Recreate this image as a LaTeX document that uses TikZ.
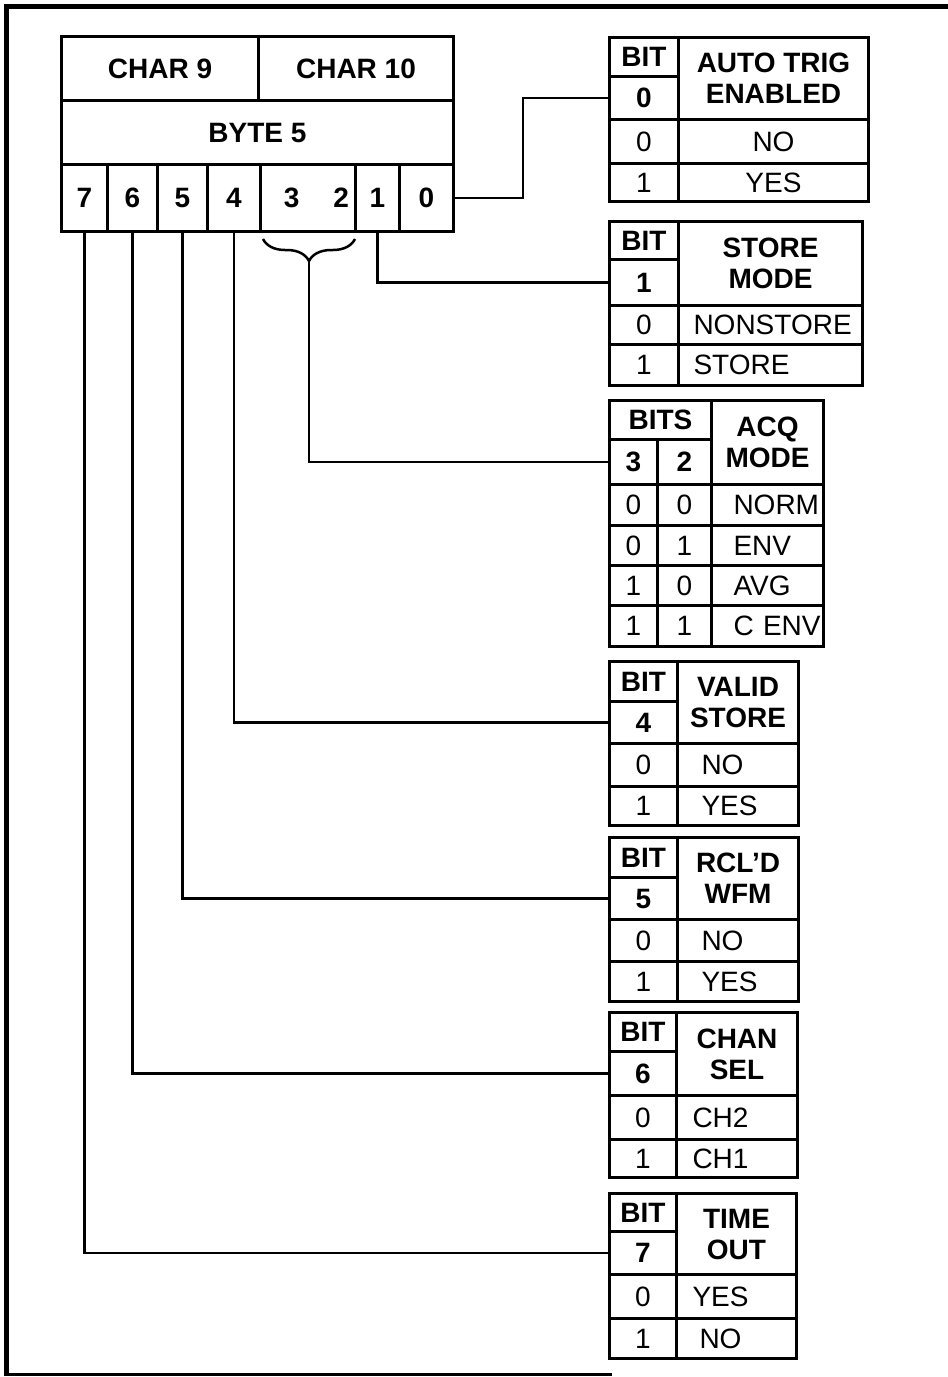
\documentclass[tikz,border=0pt]{standalone}
\usepackage{fontspec}
\setmainfont{Liberation Sans}
\usetikzlibrary{decorations.pathreplacing}

\begin{document}
\begin{tikzpicture}[x=1pt, y=-1pt,
  cell/.style={draw, rectangle, line width=3pt, inner sep=0pt, anchor=north west, font=\fontsize{28}{31}\selectfont},
  bcell/.style={cell, font=\fontsize{28}{31}\selectfont\bfseries, align=center},
  lcell/.style={cell, align=left, text width=#1},
  wire/.style={line width=2.5pt}]
\useasboundingbox (0,0) rectangle (948,1377);
% frame
\draw[line width=5pt] (6,1376) -- (6,6) -- (948,6);
\draw[line width=3pt] (6,1374) -- (612,1374);

% byte 5
\node (char9) [bcell, minimum width=197, minimum height=64] at (60,35) {CHAR 9};
\node (char10) [bcell, minimum width=195, minimum height=64] at (257,35) {CHAR 10};
\node (byte5) [bcell, minimum width=392, minimum height=64] at (60,99) {BYTE 5};
\node (b7) [bcell, minimum width=46, minimum height=67] at (60,163) {7};
\node (b6) [bcell, minimum width=50, minimum height=67] at (106,163) {6};
\node (b5) [bcell, minimum width=50, minimum height=67] at (156,163) {5};
\node (b4) [bcell, minimum width=53, minimum height=67] at (206,163) {4};
\node (b32) [bcell, minimum width=95, minimum height=67] at (259,163) {\hspace{17pt}3\hspace{34pt}2};
\node (b1) [bcell, minimum width=44, minimum height=67] at (354,163) {1};
\node (b0) [bcell, minimum width=54, minimum height=67] at (398,163) {0};

% bit 0
\node (trigbit) [bcell, minimum width=69, minimum height=39] at (608,36) {BIT};
\node (trigval) [bcell, minimum width=69, minimum height=43] at (608,75) {0};
\node (trighead) [bcell, minimum width=190, minimum height=82] at (677,36) {AUTO TRIG\\ENABLED};
\node (trig0) [cell, minimum width=69, minimum height=44] at (608,118) {0};
\node (trigno) [cell, minimum width=190, minimum height=44] at (677,118) {NO};
\node (trig1) [cell, minimum width=69, minimum height=38] at (608,162) {1};
\node (trigyes) [cell, minimum width=190, minimum height=38] at (677,162) {YES};

% bit 1
\node (storebit) [bcell, minimum width=69, minimum height=38] at (608,220) {BIT};
\node (storeval) [bcell, minimum width=69, minimum height=46] at (608,258) {1};
\node (storehead) [bcell, minimum width=184, minimum height=84] at (677,220) {STORE\\MODE};
\node (store0) [cell, minimum width=69, minimum height=39] at (608,304) {0};
\node (storeno) [lcell=154pt, minimum width=184, minimum height=39] at (677,304) {NONSTORE};
\node (store1) [cell, minimum width=69, minimum height=41] at (608,343) {1};
\node (storeyes) [lcell=154pt, minimum width=184, minimum height=41] at (677,343) {STORE};

% bits 3 and 2
\node (acqbits) [bcell, minimum width=102, minimum height=39] at (608,399) {BITS};
\node (acqval3) [bcell, minimum width=48, minimum height=45] at (608,438) {3};
\node (acqval2) [bcell, minimum width=54, minimum height=45] at (656,438) {2};
\node (acqhead) [bcell, minimum width=112, minimum height=84] at (710,399) {ACQ\\MODE};
\foreach \y/\h/\a/\b/\m [count=\i] in {483/41/0/0/NORM, 524/40/0/1/ENV, 564/40/1/0/AVG, 604/41/1/1/C ENV} {
  \node (acqa\i) [cell, minimum width=48, minimum height=\h] at (608,\y) {\a};
  \node (acqb\i) [cell, minimum width=54, minimum height=\h] at (656,\y) {\b};
  \node (acqm\i) [lcell=68pt, minimum width=112, minimum height=\h] at (710,\y) {\mbox{\m}};
}

% bit 4
\node (validbit) [bcell, minimum width=68, minimum height=40] at (608,660) {BIT};
\node (validval) [bcell, minimum width=68, minimum height=42] at (608,700) {4};
\node (validhead) [bcell, minimum width=121, minimum height=82] at (676,660) {VALID\\STORE};
\node (valid0) [cell, minimum width=68, minimum height=43] at (608,742) {0};
\node (validno) [lcell=73pt, minimum width=121, minimum height=43] at (676,742) {NO};
\node (valid1) [cell, minimum width=68, minimum height=39] at (608,785) {1};
\node (validyes) [lcell=73pt, minimum width=121, minimum height=39] at (676,785) {YES};

% bit 5
\node (rclbit) [bcell, minimum width=68, minimum height=40] at (608,836) {BIT};
\node (rclval) [bcell, minimum width=68, minimum height=42] at (608,876) {5};
\node (rclhead) [bcell, minimum width=121, minimum height=82] at (676,836) {RCL’D\\WFM};
\node (rcl0) [cell, minimum width=68, minimum height=42] at (608,918) {0};
\node (rclno) [lcell=73pt, minimum width=121, minimum height=42] at (676,918) {NO};
\node (rcl1) [cell, minimum width=68, minimum height=40] at (608,960) {1};
\node (rclyes) [lcell=73pt, minimum width=121, minimum height=40] at (676,960) {YES};

% bit 6
\node (chanbit) [bcell, minimum width=67, minimum height=39] at (608,1011) {BIT};
\node (chanval) [bcell, minimum width=67, minimum height=44] at (608,1050) {6};
\node (chanhead) [bcell, minimum width=121, minimum height=83] at (675,1011) {CHAN\\SEL};
\node (chan0) [cell, minimum width=67, minimum height=44] at (608,1094) {0};
\node (chantwo) [lcell=89pt, minimum width=121, minimum height=44] at (675,1094) {CH2};
\node (chan1) [cell, minimum width=67, minimum height=38] at (608,1138) {1};
\node (chanone) [lcell=89pt, minimum width=121, minimum height=38] at (675,1138) {CH1};

% bit 7
\node (timebit) [bcell, minimum width=67, minimum height=38] at (608,1192) {BIT};
\node (timeval) [bcell, minimum width=67, minimum height=43] at (608,1230) {7};
\node (timehead) [bcell, minimum width=120, minimum height=81] at (675,1192) {TIME\\OUT};
\node (time0) [cell, minimum width=67, minimum height=44] at (608,1273) {0};
\node (timeyes) [lcell=88pt, minimum width=120, minimum height=44] at (675,1273) {YES};
\node (time1) [cell, minimum width=67, minimum height=40] at (608,1317) {1};
\node (timeno) [lcell=74pt, minimum width=120, minimum height=40] at (675,1317) {NO};

% connectors
\draw[wire] (b0.east) -- ++(68,0) |- (trigval.west);
\draw[wire] (b1.south) |- (storeval.west);
\draw[wire, decorate, decoration={brace, amplitude=22pt}] ([shift={(-2,6)}]b32.south east) -- ([shift={(4,6)}]b32.south west);
\coordinate (acqtip) at ([shift={(1,28)}]b32.south);
\draw[wire] (acqtip) |- (acqval3.west);
\draw[wire] (b4.south) |- (validval.west);
\draw[wire] (b5.south) |- (rclval.west);
\draw[wire] (b6.south) |- (chanval.west);
\draw[wire] (b7.south) |- (timeval.west);
\end{tikzpicture}
\end{document}
